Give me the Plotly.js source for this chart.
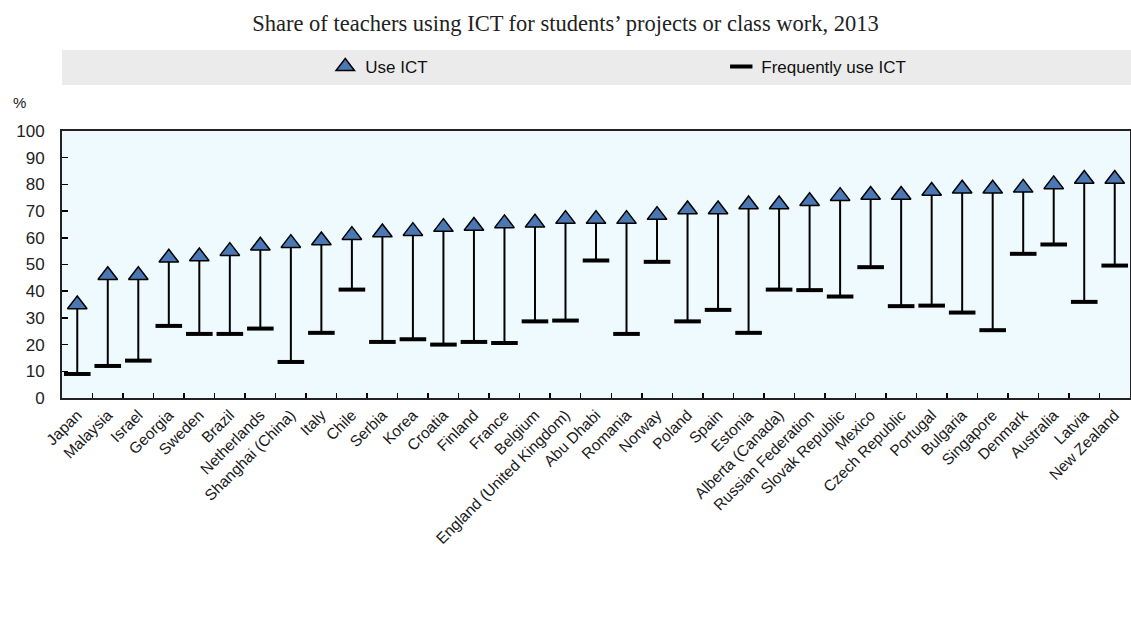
<!DOCTYPE html>
<html>
<head>
<meta charset="utf-8">
<script src="https://cdn.plot.ly/plotly-3.0.1.min.js"></script>
<style>html,body{margin:0;padding:0;background:#fff;}#chart{width:1131px;height:631px;}</style>
</head>
<body>
<div id="chart"></div>
<script>
const countries = ["Japan","Malaysia","Israel","Georgia","Sweden","Brazil","Netherlands","Shanghai (China)","Italy","Chile","Serbia","Korea","Croatia","Finland","France","Belgium","England (United Kingdom)","Abu Dhabi","Romania","Norway","Poland","Spain","Estonia","Alberta (Canada)","Russian Federation","Slovak Republic","Mexico","Czech Republic","Portugal","Bulgaria","Singapore","Denmark","Australia","Latvia","New Zealand"];
const useICT = [35,46,46,52.5,53,55,57,58,59,61,62,62.5,64,64.4,65.4,65.6,67,67,67,68.5,70.6,70.6,72.5,72.5,73.7,75.6,76,76,77.5,78.4,78.4,78.7,80,82,82];
const frequentICT = [9,12,14,27,24,24,26,13.5,24.4,40.6,21,22,20,21,20.6,28.7,29,51.5,24,51,28.7,33,24.4,40.6,40.4,38,49,34.4,34.6,32,25.4,54,57.5,36,49.6];
const yTicks = [0,10,20,30,40,50,60,70,80,90,100];

// connectors built from the data arrays
const lx = [], ly = [];
countries.forEach((c,i)=>{ lx.push(c,c,null); ly.push(frequentICT[i],useICT[i],null); });

const traces = [
  {x: lx, y: ly, type:'scatter', mode:'lines', line:{color:'#000', width:2}, showlegend:false, hoverinfo:'skip'},
  {x: countries, y: frequentICT, type:'scatter', mode:'markers', name:'Frequently use ICT',
   marker:{symbol:'line-ew', size:19, line:{color:'#000', width:4}}},
  {x: countries, y: useICT, type:'scatter', mode:'markers', name:'Use ICT',
   marker:{symbol:'triangle-up', size:17, color:'#4a78b4', line:{color:'#000', width:1.5}}}
];

const layout = {
  width:1131, height:631,
  margin:{l:62, r:1, t:131, b:233},
  paper_bgcolor:'#fff', plot_bgcolor:'#eefafd',
  title:{text:"Share of teachers using ICT for students’ projects or class work, 2013",
         font:{family:'Liberation Serif, Times New Roman, serif', size:22.5, color:'#222'},
         x:0.5, xanchor:'center', y:0.963, yanchor:'middle'},
  xaxis:{type:'category', categoryorder:'array', categoryarray:countries,
         tickangle:-45, tickfont:{family:'Liberation Sans, Arial, sans-serif', size:15.5, color:'#1a1a1a'},
         ticks:'inside', ticklen:5, tickwidth:1.5, tickcolor:'#000', tickson:'boundaries',
         showline:true, linecolor:'#222', linewidth:2, mirror:true, showgrid:false, zeroline:false,
         range:[-0.5, countries.length-0.5]},
  yaxis:{range:[0,100], tickvals:yTicks, ticktext:yTicks.map(String),
         tickfont:{family:'Liberation Sans, Arial, sans-serif', size:17, color:'#222'},
         ticks:'inside', ticklen:6, tickwidth:1.5, tickcolor:'#000', ticklabelstandoff:12,
         showline:true, linecolor:'#222', linewidth:2, mirror:true, showgrid:false, zeroline:false},
  legend:{orientation:'h', x:0.2465, xanchor:'left', y:1.24, yanchor:'middle',
          traceorder:'reversed', entrywidth:351, entrywidthmode:'pixels',
          font:{family:'Liberation Sans, Arial, sans-serif', size:17, color:'#111'},
          bgcolor:'rgba(0,0,0,0)'},
  shapes:[{type:'rect', xref:'paper', yref:'paper', x0:0, x1:1.001, y0:1.172, y1:1.303,
           fillcolor:'#ebebeb', line:{width:0}, layer:'below'}],
  annotations:[{text:'%', xref:'paper', yref:'paper', x:-0.04, y:1.105, xanchor:'center', yanchor:'middle',
                showarrow:false, font:{family:'Liberation Sans, Arial, sans-serif', size:15, color:'#222'}}]
};

Plotly.newPlot('chart', traces, layout, {displayModeBar:false, staticPlot:true});
</script>
</body>
</html>
